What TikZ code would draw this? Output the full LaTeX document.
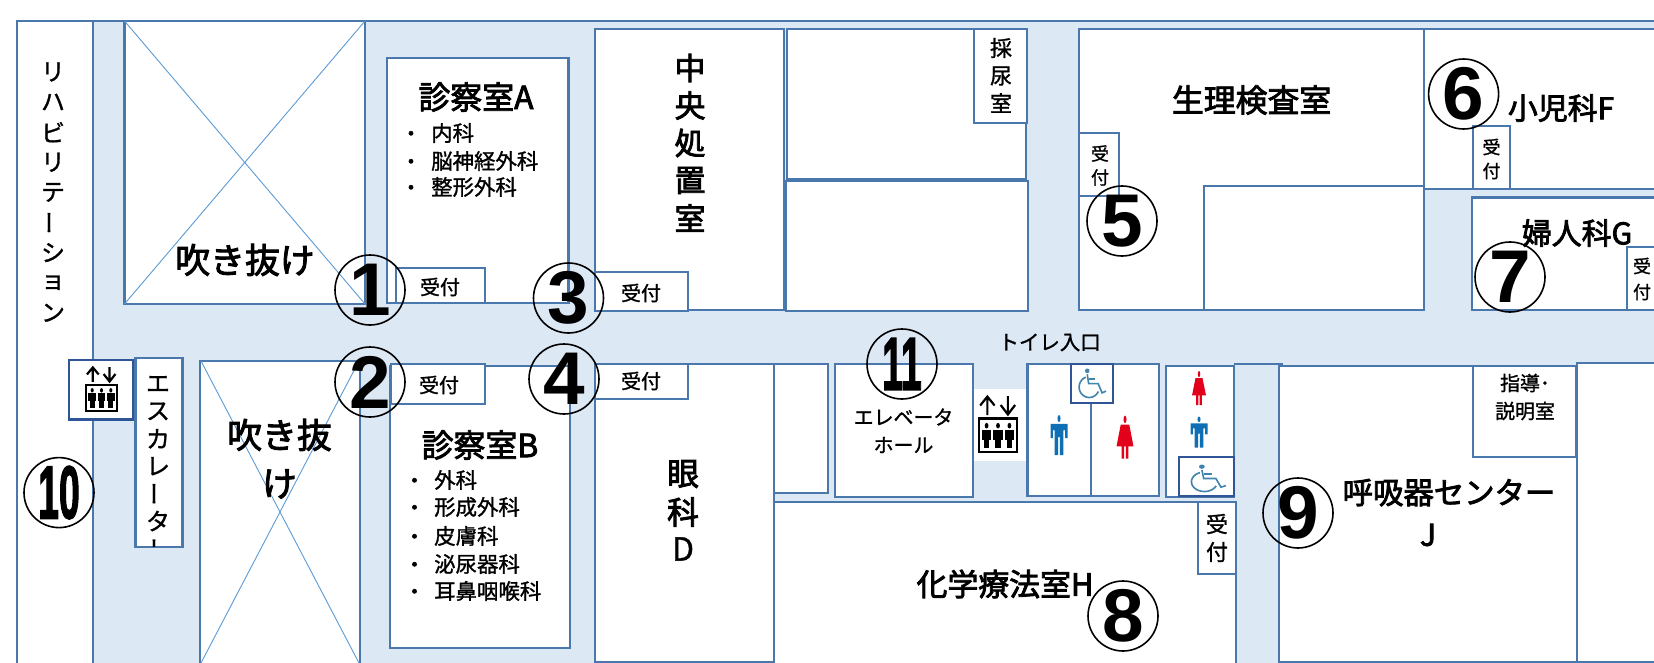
\documentclass[tikz,border=0pt]{standalone}
\usepackage{fontspec}
\usepackage{graphicx}
\newfontfamily\cjk[FakeBold=1.2]{Noto Sans CJK JP}
\newfontfamily\cjkt[FakeBold=2.6]{Noto Sans CJK JP}
\newfontfamily\digi{Liberation Sans}
\newfontfamily\digin[FakeBold=2.5]{Liberation Sans}
\definecolor{wallc}{HTML}{4A78AC}
\definecolor{floorc}{HTML}{DDE8F5}
\definecolor{darkb}{HTML}{2F5597}
\definecolor{crossc}{HTML}{5B9BD5}
\definecolor{manc}{HTML}{0F6FB5}
\definecolor{womanc}{HTML}{E2001A}
\definecolor{wheelc}{HTML}{3F83AE}
\newcommand\fs[1]{\fontsize{#1}{#1}\selectfont}
\newcommand\vbar{\rotatebox[origin=c]{90}{ー}}
\newcommand\manicon[4]{\begin{scope}[shift={(#1,#2)},xscale=#3,yscale=#4]
 \fill[manc] (0,-.41) circle[radius=.09];
 \fill[manc,rounded corners=.2] (-.5,-.28)--(.5,-.28)--(.5,.08)--(.36,.08)--(.36,-.12)--(.26,-.12)--(.26,.5)--(.05,.5)--(.05,.05)--(-.05,.05)--(-.05,.5)--(-.26,.5)--(-.26,-.12)--(-.36,-.12)--(-.36,.08)--(-.5,.08)--cycle;
\end{scope}}
\newcommand\womanicon[4]{\begin{scope}[shift={(#1,#2)},xscale=#3,yscale=#4]
 \fill[womanc] (0,-.41) circle[radius=.09];
 \fill[womanc] (-.25,-.29)--(.25,-.29)--(.5,.22)--(.2,.22)--(.2,.5)--(.05,.5)--(.05,.22)--(-.05,.22)--(-.05,.5)--(-.2,.5)--(-.2,.22)--(-.5,.22)--cycle;
\end{scope}}
\newcommand\wheelicon[4]{\begin{scope}[shift={(#1,#2)},xscale=#3,yscale=#4]
 \fill[wheelc] (-.17,-.42) circle[radius=.08];
 \draw[wheelc,line width=1.6bp] (-.17,-.3)--(-.12,.02)--(.22,.02)--(.36,.34)--(.5,.28);
 \draw[wheelc,line width=1.6bp] (-.12,-.14)--(.12,-.14);
 \draw[wheelc,line width=1.6bp] plot[domain=25:250,samples=24] ({-.1+.36*cos(\x)},{.14+.36*sin(\x)});
\end{scope}}
\newcommand\elevicon[4]{\begin{scope}[shift={(#1,#2)},xscale=#3,yscale=#4]
 \draw[black,line width=2.2bp] (.22,.34)--(.22,.03) (.03,.17)--(.22,.01)--(.41,.17);
 \draw[black,line width=2.2bp] (.76,0)--(.76,.31) (.57,.16)--(.76,.33)--(.95,.16);
 \draw[black,line width=2.2bp,fill=white] (0,.4) rectangle (1,1);
 \foreach \px in {.2,.5,.8}{
  \fill[black] (\px,.53) circle[radius=.05];
  \fill[black] (\px-.12,.6) rectangle (\px+.12,.78);
  \fill[black] (\px-.075,.78) rectangle (\px+.075,.93);}
\end{scope}}
\tikzset{
 floorarea/.style={fill=floorc,draw=wallc,line width=2bp},
 room/.style={fill=white,draw=wallc,line width=2.4bp},
 wcbox/.style={fill=white,draw=darkb,line width=2.8bp},
 voidx/.style={draw=crossc,line width=.9bp},
 lbl/.style={inner sep=0pt,align=center,font=\cjk},
 ring/.style={circle,draw=black,line width=1.6bp,minimum size=70bp,inner sep=0pt},
 dig/.style={inner sep=0pt,font=\digi\bfseries\fs{75}},
 dign/.style={inner sep=0pt,font=\digin\bfseries\fs{75}}
}
\begin{document}
\begin{tikzpicture}[x=1bp,y=-1bp]
\clip (0,0) rectangle (1654,663);
\fill[white] (0,0) rectangle (1654,663);
\path[floorarea] (17,21) rectangle (1670,680);
% rooms
\draw[room] (17,21) rectangle (93,680);
\draw[room] (124.5,21) rectangle (365,304);
\draw[voidx] (124.5,21)--(365,304) (124.5,304)--(365,21);
\draw[room] (387,58) rectangle (568.6,303);
\draw[room] (396,268) rectangle (485,303);
\draw[room] (595,29) rectangle (784,310);
\draw[room] (595,272) rectangle (688,311);
\draw[room] (787,29) rectangle (1026,179);
\draw[room] (786,181) rectangle (1028,311);
\draw[room] (974,29) rectangle (1027,123);
\draw[room] (200,361) rectangle (360,680);
\draw[voidx] (201,361)--(359,663) (201,663)--(359,361);
\draw[room] (390,366) rectangle (570,648);
\draw[room] (391,364) rectangle (485,404);
\draw[room] (595,364) rectangle (774,662);
\draw[room] (595,364) rectangle (688,399);
\draw[room] (774,364) rectangle (828,493);
\draw[room] (774,502) rectangle (1236,680);
\draw[room] (1198,502) rectangle (1236,574);
\draw[room] (835,364) rectangle (973,497);
\fill[white] (974,389) rectangle (1026,461);
\draw[room] (1027.5,364) rectangle (1159,496);
\draw[wallc,line width=2bp] (1091,403)--(1091,496);
\draw[room] (1166,366) rectangle (1234,497);
\draw[wallc,line width=2bp] (1234,364)--(1283,364);
\draw[room] (1279,366) rectangle (1577,662);
\draw[room] (1473,366) rectangle (1576,457);
\draw[room] (1577,363) rectangle (1670,662);
\draw[room] (1079,29) rectangle (1424,310);
\draw[room] (1204,186) rectangle (1424,310);
\draw[room] (1079,133) rectangle (1119,196);
\draw[room] (1424,29) rectangle (1670,189);
\draw[room] (1473,126) rectangle (1510,189);
\draw[room] (1472,197.5) rectangle (1670,310);
\draw[room] (1627,247) rectangle (1670,310);
\draw[room] (135.5,358) rectangle (182.5,547);
\draw[wcbox] (69,360) rectangle (133,419.5);
\draw[wcbox] (1071,364) rectangle (1113,403);
\draw[wcbox] (1179,457) rectangle (1234,496);
% icons
\elevicon{86}{367}{31}{44}
\elevicon{979}{396}{38}{56}
\manicon{1059}{435}{17}{40}
\womanicon{1125}{437}{17}{43}
\womanicon{1199}{388}{14}{34}
\manicon{1199}{432}{17}{31}
\wheelicon{1092}{383}{28}{29}
\wheelicon{1208}{478}{36}{27}
% labels
\foreach \ch [count=\i from 0] in {リ,ハ,ビ,リ,テ,\vbar,シ,ョ,ン}{
 \node[lbl,font=\cjk\fs{24}] (rh\i) at (53,{72+\i*30.1}) {\ch};}
\foreach \ch [count=\i from 0] in {エ,ス,カ,レ,\vbar,タ}{
 \node[lbl,font=\cjk\fs{24}] (es\i) at (158,{384+\i*27.4}) {\ch};}
\begin{scope}
\clip (136,530) rectangle (182,546);
\node[lbl,font=\cjk\fs{24}] (es6) at (158,549) {\vbar};
\end{scope}
\node[lbl,font=\cjkt\fs{35}] (void1) at (245,260) {吹き抜け};
\node[lbl,font=\cjkt\fs{35}] (void2a) at (279.5,435) {吹き抜};
\node[lbl,font=\cjkt\fs{35}] (void2b) at (279.5,484) {け};
\node[lbl,font=\cjkt\fs{32}] (roomA) at (476,97) {診察室A};
\node[lbl,font=\cjkt\fs{32}] (roomB) at (480,445) {診察室B};
\foreach \t/\y/\n in {内科/133/a,脳神経外科/161/b,整形外科/187/c}{
 \node[lbl,font=\cjkt\fs{20}] (ab\n) at (411,\y+3) {・};
 \node[lbl,font=\cjk\fs{21.5},anchor=west] (at\n) at (431,\y) {\t};}
\foreach \t/\y/\n in {外科/480/a,形成外科/507/b,皮膚科/536/c,泌尿器科/564/d,耳鼻咽喉科/591/e}{
 \node[lbl,font=\cjkt\fs{20}] (bb\n) at (414.5,\y+3) {・};
 \node[lbl,font=\cjk\fs{21.5},anchor=west] (bt\n) at (434,\y) {\t};}
\foreach \t/\x/\y/\n in {受付/440/287/a,受付/641/293/c,受付/439/385/b,受付/641/381/d}{
 \node[lbl,font=\cjk\fs{20}] (rec\n) at (\x,\y) {\t};}
\foreach \ch [count=\i from 0] in {中,央,処,置,室}{
 \node[lbl,font=\cjkt\fs{31}] (cc\i) at (690,{68+\i*37.5}) {\ch};}
\node[lbl,font=\cjkt\fs{32}] (eye1) at (683,474) {眼};
\node[lbl,font=\cjkt\fs{32}] (eye2) at (683,512) {科};
\node[lbl,font=\cjk\fs{32}] (eye3) at (683,549) {D};
\node[lbl,font=\cjk\fs{22}] (ur1) at (1001,48) {採};
\node[lbl,font=\cjk\fs{22}] (ur2) at (1001,76) {尿};
\node[lbl,font=\cjk\fs{22}] (ur3) at (1001,103) {室};
\node[lbl,font=\cjk\fs{18}] (r5a) at (1100,153.5) {受};
\node[lbl,font=\cjk\fs{18}] (r5b) at (1100,177.5) {付};
\node[lbl,font=\cjk\fs{18}] (r6a) at (1491.5,147) {受};
\node[lbl,font=\cjk\fs{18}] (r6b) at (1491.5,171) {付};
\node[lbl,font=\cjk\fs{18}] (r7a) at (1642,266) {受};
\node[lbl,font=\cjk\fs{18}] (r7b) at (1642,292) {付};
\node[lbl,font=\cjk\fs{22}] (r8a) at (1217,524) {受};
\node[lbl,font=\cjk\fs{22}] (r8b) at (1217,552) {付};
\node[lbl,font=\cjkt\fs{32}] (physio) at (1251.6,100) {生理検査室};
\node[lbl,font=\cjkt\fs{30}] (ped) at (1561,108) {小児科F};
\node[lbl,font=\cjkt\fs{30}] (gyn) at (1577,233) {婦人科G};
\node[lbl,font=\cjk\fs{20.5}] (wc) at (1049.6,342.5) {トイレ入口};
\node[lbl,font=\cjk\fs{20}] (elh1) at (903.5,417) {エレベータ};
\node[lbl,font=\cjk\fs{20}] (elh2) at (903.5,445) {ホール};
\node[lbl,font=\cjk\fs{20}] (gd1) at (1525,383) {指導･};
\node[lbl,font=\cjk\fs{20}] (gd2) at (1525,411) {説明室};
\node[lbl,font=\cjkt\fs{30.5}] (resp) at (1449,492.6) {呼吸器センター};
\node[lbl,font=\cjkt\fs{30}] (respJ) at (1428,535) {J};
\node[lbl,font=\cjkt\fs{31}] (chemo) at (1005,584) {化学療法室H};
% numbers
\foreach \n/\x/\y/\d in {1/370/290/1,2/370/382/2,3/568.5/298/3,4/564/379/4,5/1122/221/5,6/1463.6/94/6,7/1510/277/7,8/1123/616/8,9/1298/513/9}{
 \node[ring] (ring\n) at (\x,\y) {};
 \node[dig] (num\n) at (ring\n) {\d};}
\node[ring] (ring10) at (59,492.6) {};
\node[dign] (num10) at (ring10) {\scalebox{.5}[1]{10}};
\node[ring] (ring11) at (902,364) {};
\node[dign] (num11) at (ring11) {\scalebox{.5}[1]{11}};
\end{tikzpicture}
\end{document}
